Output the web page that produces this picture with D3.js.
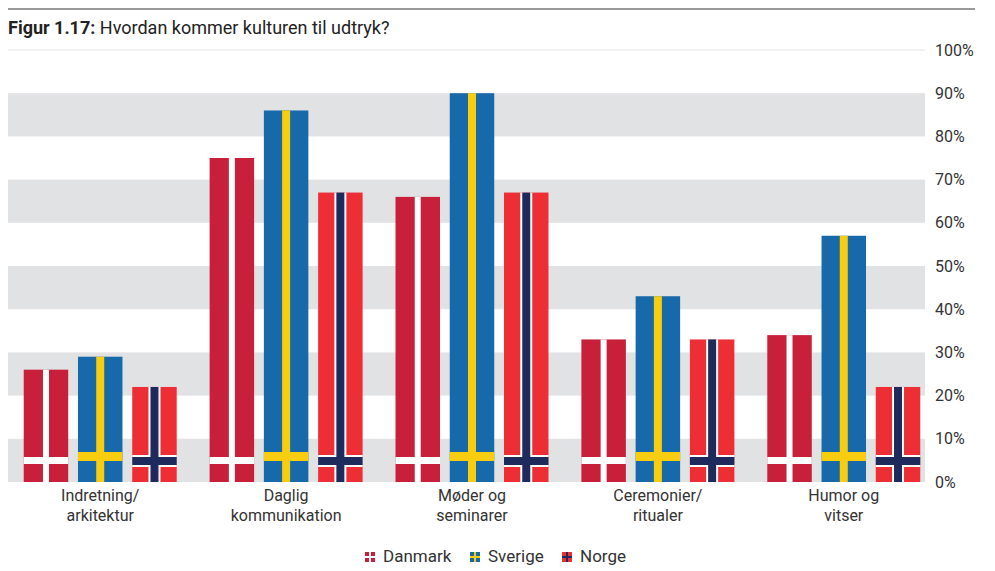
<!DOCTYPE html><html><head><meta charset="utf-8"><script src="https://cdn.jsdelivr.net/npm/d3@7"></script>
<style>body{margin:0;background:#fff}text{font-family:Roboto,"Open Sans",sans-serif}</style></head><body><svg id="c" width="995" height="571"></svg>
<script>
const categories=[["Indretning/","arkitektur"],["Daglig","kommunikation"],["Møder og","seminarer"],["Ceremonier/","ritualer"],["Humor og","vitser"]];
const countries=["Danmark","Sverige","Norge"];
const danmark=[26,75,66,33,34];
const sverige=[29,86,90,43,57];
const norge=[22,67,67,33,22];
const ticks=[0,10,20,30,40,50,60,70,80,90,100];
const svg=d3.select("#c");
const y=d3.scaleLinear().domain([0,100]).range([482,50]);
const x0=d3.scaleBand().domain(d3.range(5)).range([7,937]).paddingInner(0.177).paddingOuter(0.09);
const x1=d3.scaleBand().domain(countries).range([0,x0.bandwidth()]).paddingInner(0.18);
// title & top rule
svg.append("line").attr("x1",8).attr("x2",975).attr("y1",9).attr("y2",9).attr("stroke","#333");
const t=svg.append("text").attr("x",8).attr("y",34).attr("font-size",18).attr("fill","#222");
t.append("tspan").attr("font-weight","bold").text("Figur 1.17:");
t.append("tspan").text(" Hvordan kommer kulturen til udtryk?");
// bands
for(let i=0;i<10;i+=2){svg.append("rect").attr("x",8).attr("width",917).attr("y",y(i*10+10)).attr("height",y(i*10)-y(i*10+10)).attr("fill","#e1e2e4");}
svg.append("line").attr("x1",8).attr("x2",925).attr("y1",y(100)).attr("y2",y(100)).attr("stroke","#e1e2e4");
const ax=svg.append("g").attr("transform","translate(925,0)").call(d3.axisRight(y).tickValues(ticks).tickFormat(d=>d+"%").tickSize(0).tickPadding(10));
ax.select(".domain").remove();
ax.selectAll("text").attr("font-size",16).attr("fill","#333").attr("font-family","Roboto,sans-serif");
const data=[danmark,sverige,norge];
function flag(g,c,xx,w,v){
  const top=y(v),bot=y(0);
  if(c===0){
    g.append("rect").attr("x",xx).attr("y",top).attr("width",w).attr("height",bot-top).attr("fill","#c8203a");
    g.append("rect").attr("x",xx+w/2-3).attr("y",top).attr("width",6).attr("height",bot-top).attr("fill","#fff");
    g.append("rect").attr("x",xx).attr("y",457).attr("width",w).attr("height",7).attr("fill","#fff");
  }else if(c===1){
    g.append("rect").attr("x",xx).attr("y",top).attr("width",w).attr("height",bot-top).attr("fill","#1769aa");
    g.append("rect").attr("x",xx+w/2-4).attr("y",top).attr("width",8).attr("height",bot-top).attr("fill","#f8cd10");
    g.append("rect").attr("x",xx).attr("y",452).attr("width",w).attr("height",9).attr("fill","#f8cd10");
  }else{
    g.append("rect").attr("x",xx).attr("y",top).attr("width",w).attr("height",bot-top).attr("fill","#ee2e35");
    g.append("rect").attr("x",xx+w/2-6).attr("y",top).attr("width",12).attr("height",bot-top).attr("fill","#fff");
    g.append("rect").attr("x",xx).attr("y",455).attr("width",w).attr("height",12).attr("fill","#fff");
    g.append("rect").attr("x",xx+w/2-4).attr("y",top).attr("width",8).attr("height",bot-top).attr("fill","#1e2a5c");
    g.append("rect").attr("x",xx).attr("y",457).attr("width",w).attr("height",8).attr("fill","#1e2a5c");
  }
}
categories.forEach((cat,i)=>{
  const g=svg.append("g");
  countries.forEach((c,j)=>flag(g,j,x0(i)+x1(c),x1.bandwidth(),data[j][i]));
  const cx=x0(i)+x0.bandwidth()/2;
  cat.forEach((l,k)=>svg.append("text").attr("x",cx).attr("y",501+k*20).attr("text-anchor","middle").attr("font-size",16).attr("fill","#333").text(l));
});
// legend
const legCols=[["#c8203a","#fff"],["#1769aa","#f8cd10"],["#ee2e35","#1e2a5c"]];
const lx=[365,470,562];
countries.forEach((c,j)=>{
  const g=svg.append("g").attr("transform",`translate(${lx[j]},552)`);
  g.append("rect").attr("width",10).attr("height",10).attr("fill",legCols[j][0]);
  g.append("rect").attr("x",4).attr("width",2).attr("height",10).attr("fill",legCols[j][1]);
  g.append("rect").attr("y",4).attr("width",10).attr("height",2).attr("fill",legCols[j][1]);
  g.append("text").attr("x",18).attr("y",10).attr("font-size",17).attr("fill","#333").text(c);
});
</script></body></html>
